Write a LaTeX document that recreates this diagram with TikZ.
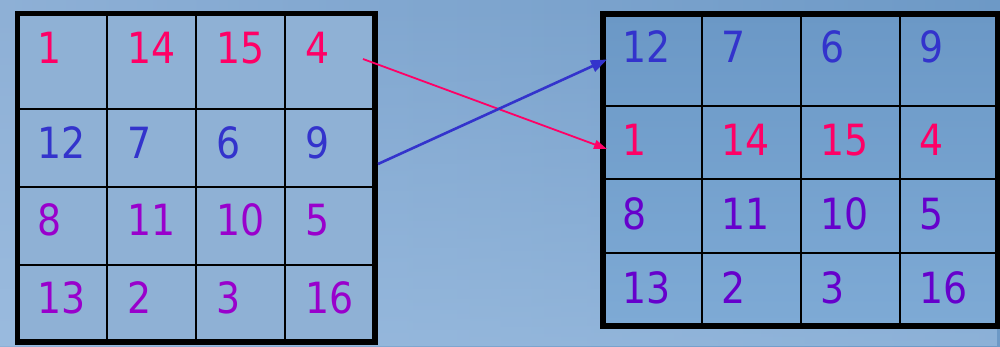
\documentclass[tikz,border=0pt]{standalone}
\usepackage{fontspec}
\newfontfamily\numfont{DejaVu Sans}[FakeStretch=0.88]
\usetikzlibrary{arrows.meta,fadings}
\definecolor{redc}{HTML}{FF0066}
\definecolor{bluec}{HTML}{3333CC}
\definecolor{purpL}{HTML}{9900CC}
\definecolor{purpR}{HTML}{6600CC}
\definecolor{bgL}{HTML}{8EB0D6}
\definecolor{bgR}{HTML}{6D99C6}
\definecolor{bgLight}{HTML}{A2C2E4}
\definecolor{gridL}{HTML}{8FB1D5}
\definecolor{gridRt}{HTML}{6B98C6}
\definecolor{gridRb}{HTML}{7EAAD5}
\tikzset{
  num/.style={anchor=base west, inner sep=0pt, font=\numfont\fontsize{43}{43}\selectfont},
  inner/.style={draw=black, line width=2.2pt},
  outer/.style={draw=black, line width=5.5pt},
  redarrow/.style={draw=redc, line width=1.8pt, -{Triangle[length=13pt,width=9pt]}},
  bluearrow/.style={draw=bluec, line width=2.6pt, -{Triangle[length=16pt,width=12pt]}}
}
\begin{document}
\begin{tikzpicture}[x=1pt,y=-1pt]
\useasboundingbox (0,0) rectangle (1000,346);
\shade[left color=bgL, right color=bgR] (0,0) rectangle (1000,346);
\fill[bgLight, path fading=north, fill opacity=0.6] (0,0) rectangle (1000,346);
% left grid
\fill[gridL] (17.5,13.5) rectangle (375,342);
\foreach \x in {107,196,285} \draw[inner] (\x,13.5) -- (\x,342);
\foreach \y in {109,187,265} \draw[inner] (17.5,\y) -- (375,\y);
\draw[outer] (17.5,13.5) rectangle (375,342);
% right grid
\shade[top color=gridRt, bottom color=gridRb] (603,14) rectangle (998,326);
\foreach \x in {702,801,900} \draw[inner] (\x,14) -- (\x,326);
\foreach \y in {106,179,253} \draw[inner] (603,\y) -- (998,\y);
\draw[outer] (603,14) rectangle (998,326);
% left numbers
\node[num,text=redc] (l11) at (37.5,63) {1};
\node[num,text=redc] (l12) at (127,63) {14};
\node[num,text=redc] (l13) at (216,63) {15};
\node[num,text=redc] (l14) at (305,63) {4};
\node[num,text=bluec] (l21) at (37.5,158) {12};
\node[num,text=bluec] (l22) at (127,158) {7};
\node[num,text=bluec] (l23) at (216,158) {6};
\node[num,text=bluec] (l24) at (305,158) {9};
\node[num,text=purpL] (l31) at (37.5,235.5) {8};
\node[num,text=purpL] (l32) at (127,235.5) {11};
\node[num,text=purpL] (l33) at (216,235.5) {10};
\node[num,text=purpL] (l34) at (305,235.5) {5};
\node[num,text=purpL] (l41) at (37.5,313) {13};
\node[num,text=purpL] (l42) at (127,313) {2};
\node[num,text=purpL] (l43) at (216,313) {3};
\node[num,text=purpL] (l44) at (305,313) {16};
% right numbers
\node[num,text=bluec] (r11) at (622,62.5) {12};
\node[num,text=bluec] (r12) at (721,62.5) {7};
\node[num,text=bluec] (r13) at (820,62.5) {6};
\node[num,text=bluec] (r14) at (919,62.5) {9};
\node[num,text=redc] (r21) at (622,155) {1};
\node[num,text=redc] (r22) at (721,155) {14};
\node[num,text=redc] (r23) at (820,155) {15};
\node[num,text=redc] (r24) at (919,155) {4};
\node[num,text=purpR] (r31) at (622,229) {8};
\node[num,text=purpR] (r32) at (721,229) {11};
\node[num,text=purpR] (r33) at (820,229) {10};
\node[num,text=purpR] (r34) at (919,229) {5};
\node[num,text=purpR] (r41) at (622,303) {13};
\node[num,text=purpR] (r42) at (721,303) {2};
\node[num,text=purpR] (r43) at (820,303) {3};
\node[num,text=purpR] (r44) at (919,303) {16};
% arrows
\coordinate (redS) at (363,59);
\coordinate (redE) at (607,149);
\coordinate (blueS) at (378,164);
\coordinate (blueE) at (607,59.5);
\draw[redarrow] (redS) -- (redE);
\draw[bluearrow] (blueS) -- (blueE);
\end{tikzpicture}
\end{document}
